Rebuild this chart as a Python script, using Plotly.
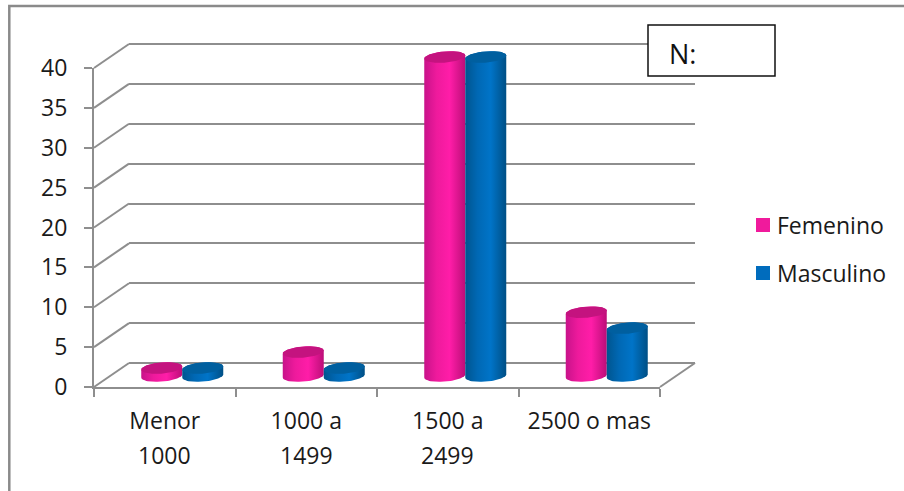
import numpy as np
import plotly.graph_objects as go

# ---- data ----
categories = ["Menor 1000", "1000 a 1499", "1500 a 2499", "2500 o mas"]
tick_line1 = ["Menor", "1000 a", "1500 a", "2500 o mas"]
tick_line2 = ["1000", "1499", "2499", ""]
femenino = [1, 3, 40, 8]
masculino = [1, 1, 40, 6]
y_ticks = [0, 5, 10, 15, 20, 25, 30, 35, 40]
series_names = ["Femenino", "Masculino"]

# ---- layout helpers (pixel geometry of the oblique chart box) ----
W, H = 904, 491
FONT = "Open Sans"
GRID = "#8e8e8e"
TEXT = "#1a1a1a"
PINK = "#F01A9C"
BLUE = "#006CBD"
FS = 23


def px(x):
    return x / W


def py(y):
    return (H - y) / H


X0, X1, Y0, Y40 = 94, 660, 387, 68     # front plane
WALL_DX, WALL_DY = 35, -24             # back wall offset
BAR_DX, BAR_DY = 17.5, -11             # plane where the cylinders stand
x_range = [-0.5, 3.5]
y_range = [0, 40]
PAD = 2                                # extra value units so edges are not clipped or hidden
ux = (X1 - X0) / 4                     # px per category
uy = (Y0 - Y40) / 40                   # px per value unit
BAR_W = 41 / ux
RX, RY, TILT = 20.5 / ux, 5.6 / uy, 1.6 / uy
idx = list(range(len(categories)))

fig = go.Figure()

# Invisible anchor traces so that the wall and the front axes subplots render
fig.add_trace(go.Scatter(x=[0], y=[0], xaxis="x", yaxis="y", mode="markers",
                         marker=dict(opacity=0), showlegend=False, hoverinfo="skip"))
fig.add_trace(go.Scatter(x=[0], y=[0], xaxis="x2", yaxis="y2", mode="markers",
                         marker=dict(opacity=0), showlegend=False, hoverinfo="skip"))

t_up = np.linspace(np.pi, 0, 40)      # upper half (left to right)
t_down = np.linspace(0, -np.pi, 40)   # lower half (right to left)


def ellipse(cx, cy, t):
    return cx + RX * np.cos(t), cy + RY * np.sin(t) + TILT * np.cos(t)


styles = [
    dict(name=series_names[0], values=femenino, color=PINK, side=-0.5,
         cap="#C4137F", scale=[[0, "#C8128A"], [0.3, "#EE1A9C"], [0.62, "#FF1DA8"], [1, "#BC0E78"]]),
    dict(name=series_names[1], values=masculino, color=BLUE, side=0.5,
         cap="#005F9F", scale=[[0, "#00558F"], [0.3, "#0068B4"], [0.62, "#0074C8"], [1, "#004F85"]]),
]

for s in styles:
    cxs = [i + s["side"] * BAR_W for i in idx]
    # Real bars carrying the values, covered by the cylinder shading drawn above
    fig.add_trace(go.Bar(x=idx, y=s["values"], name=s["name"],
                         xaxis="x3", yaxis="y3", width=BAR_W * 0.96,
                         offset=(s["side"] - 0.48) * BAR_W,
                         marker=dict(color=s["color"], line=dict(width=0)),
                         showlegend=False, hoverinfo="skip"))
    for cx, v in zip(cxs, s["values"]):
        x_top, y_top = ellipse(cx, v, t_up)
        x_bot, y_bot = ellipse(cx, 0, t_down)
        fig.add_trace(go.Scatter(
            x=np.concatenate([x_top, x_bot, x_top[:1]]),
            y=np.concatenate([y_top, y_bot, y_top[:1]]),
            xaxis="x3", yaxis="y3", mode="lines", line=dict(width=0),
            fill="toself", fillgradient=dict(type="horizontal", colorscale=s["scale"]),
            showlegend=False, hoverinfo="skip"))
        x_cap, y_cap = ellipse(cx, v, np.linspace(0, 2 * np.pi, 80))
        fig.add_trace(go.Scatter(
            x=x_cap, y=y_cap, xaxis="x3", yaxis="y3", mode="lines", line=dict(width=0),
            fill="toself", fillcolor=s["cap"], showlegend=False, hoverinfo="skip"))

hidden = dict(showgrid=False, zeroline=False, showticklabels=False, ticks="", showline=False,
              automargin=False)

layout_shapes = [
    # chart frame: only the top and left edges fall inside the picture
    dict(type="path", xref="paper", yref="paper",
         path=f"M{px(9.3)},{py(491)} L{px(9.3)},{py(6)} L{px(904)},{py(6)}",
         line=dict(color="#8a8a8a", width=2.5), layer="below"),
    # floor edge on the right
    dict(type="line", xref="paper", yref="paper",
         x0=px(X1), x1=px(X1 + WALL_DX), y0=py(Y0), y1=py(Y0 + WALL_DY),
         line=dict(color=GRID, width=2), layer="below"),
]
for v in y_ticks:
    yy = Y0 - v * uy
    layout_shapes.append(dict(type="line", xref="paper", yref="paper",
                              x0=px(X0), x1=px(X0 + WALL_DX), y0=py(yy), y1=py(yy + WALL_DY),
                              line=dict(color=GRID, width=2), layer="below"))
layout_shapes.append(dict(type="rect", xref="paper", yref="paper",
                          x0=px(648), x1=px(775), y0=py(76), y1=py(25),
                          line=dict(color="#111111", width=1.5), fillcolor="white", layer="above"))
for yy, col in zip([225, 273], [PINK, BLUE]):
    layout_shapes.append(dict(type="rect", xref="paper", yref="paper",
                              x0=px(756), x1=px(770), y0=py(yy + 7), y1=py(yy - 7),
                              line=dict(width=0), fillcolor=col, layer="above"))

annotations = [
    dict(text="N:", xref="paper", yref="paper", x=px(667), y=py(53), xanchor="left", yanchor="middle",
         showarrow=False, font=dict(family=FONT, size=27, color="#111111")),
]
for name, yy in zip(series_names, [225, 273]):
    annotations.append(dict(text=name, xref="paper", yref="paper", x=px(775), y=py(yy),
                            xanchor="left", yanchor="middle", showarrow=False,
                            font=dict(family=FONT, size=FS, color=TEXT)))
for i, line in enumerate(tick_line2):
    if line:
        annotations.append(dict(text=line, xref="x2", yref="paper", x=i, y=py(455),
                                xanchor="center", yanchor="middle", showarrow=False,
                                font=dict(family=FONT, size=FS, color=TEXT)))

fig.update_layout(
    template="none",
    width=W, height=H, autosize=False,
    margin=dict(l=0, r=0, t=0, b=0, pad=0),
    paper_bgcolor="white", plot_bgcolor="rgba(0,0,0,0)",
    showlegend=False, barmode="overlay",
    font=dict(family=FONT, size=FS, color=TEXT),
    # back wall: gridlines only (padded so the first and last gridline are drawn)
    xaxis=dict(domain=[px(X0 + WALL_DX), px(X1 + WALL_DX)], range=x_range, anchor="y", **hidden),
    yaxis=dict(domain=[py(Y0 + WALL_DY + PAD * uy), py(Y40 + WALL_DY - PAD * uy)],
               range=[y_range[0] - PAD, y_range[1] + PAD], anchor="x",
               showgrid=True, gridcolor=GRID, gridwidth=2, zeroline=False, automargin=False,
               showticklabels=False, ticks="", showline=False, tickmode="array", tickvals=y_ticks),
    # front axes: category labels at centres, minor ticks at the category boundaries
    xaxis2=dict(domain=[px(X0), px(X1)], range=x_range, anchor="y2", tickmode="array",
                tickvals=idx, ticktext=tick_line1, ticks="", automargin=False,
                minor=dict(tickmode="array", tickvals=[i - 0.5 for i in idx] + [idx[-1] + 0.5],
                           ticks="outside", ticklen=8, tickwidth=2, tickcolor=GRID, showgrid=False),
                showline=True, linecolor=GRID, linewidth=2, showgrid=False,
                zeroline=False, tickfont=dict(family=FONT, size=FS, color=TEXT), ticklabelstandoff=12),
    yaxis2=dict(domain=[py(Y0), py(Y40)], range=y_range, anchor="x2", tickmode="array", tickvals=y_ticks,
                ticks="outside", ticklen=8, tickwidth=2, tickcolor=GRID, showline=True, automargin=False,
                linecolor=GRID, linewidth=2, showgrid=False, zeroline=False, ticklabelstandoff=12,
                tickfont=dict(family=FONT, size=FS, color=TEXT)),
    # cylinders plane (padded so that the rounded ends are not clipped)
    xaxis3=dict(domain=[px(X0 + BAR_DX), px(X1 + BAR_DX)], range=x_range, anchor="y3", **hidden),
    yaxis3=dict(domain=[py(Y0 + BAR_DY + PAD * uy), py(Y40 + BAR_DY - PAD * uy)],
                range=[y_range[0] - PAD, y_range[1] + PAD], anchor="x3", **hidden),
    shapes=layout_shapes,
    annotations=annotations,
)

fig.write_html("out.html", config=dict(displayModeBar=False),
               post_script="document.body.style.margin='0';document.body.style.overflow='hidden';")
